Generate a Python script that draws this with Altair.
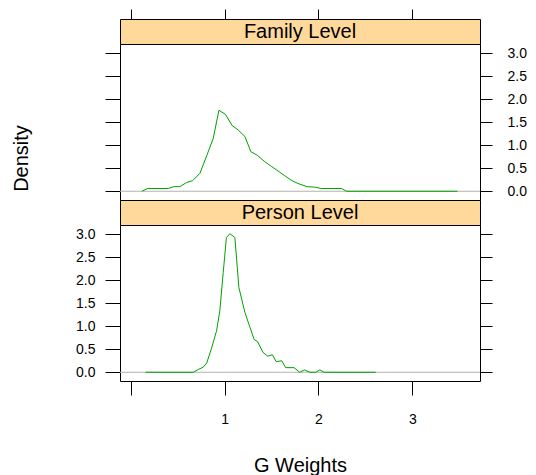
import altair as alt
import pandas as pd

# ---- data ----
fam_x = [0.12, 0.18, 0.40, 0.46, 0.525, 0.596, 0.66, 0.738, 0.81, 0.88, 0.94, 1.01, 1.08,
         1.146, 1.217, 1.28, 1.35, 1.43, 1.50, 1.57, 1.64, 1.71, 1.78, 1.88, 1.96, 2.03,
         2.245, 2.30, 3.48]
fam_y = [0.0, 0.06, 0.06, 0.10, 0.10, 0.19, 0.23, 0.39, 0.77, 1.15, 1.76, 1.67, 1.43,
         1.33, 1.19, 0.86, 0.78, 0.64, 0.54, 0.44, 0.34, 0.24, 0.17, 0.10, 0.09, 0.06,
         0.06, 0.0, 0.0]

per_x = [0.16, 0.667, 0.72, 0.773, 0.81, 0.86, 0.915, 0.95, 0.986, 1.02, 1.057, 1.11,
         1.153, 1.217, 1.27, 1.316, 1.35, 1.41, 1.46, 1.51, 1.55, 1.61, 1.65, 1.74, 1.80,
         1.85, 1.91, 1.97, 2.015, 2.06, 2.61]
per_y = [0.0, 0.0, 0.06, 0.11, 0.20, 0.51, 0.90, 1.34, 2.17, 2.93, 3.01, 2.93,
         1.84, 1.30, 0.98, 0.71, 0.67, 0.43, 0.35, 0.38, 0.23, 0.25, 0.10, 0.10, 0.0,
         0.05, 0.0, 0.0, 0.05, 0.0, 0.0]

panels = ["Family Level", "Person Level"]
x_ticks = [0, 1, 2, 3]
y_ticks = [0.0, 0.5, 1.0, 1.5, 2.0, 2.5, 3.0]
x_domain = [-0.113, 3.72]
y_domain = [-0.19, 3.2]

GREEN = "#00A000"
REF = "#b3b3b3"
STRIP = "#FFD89B"
FONT = "Liberation Sans"
W, H, SH = 360, 156, 25

fam_df = pd.DataFrame({"x": fam_x, "y": fam_y})
per_df = pd.DataFrame({"x": per_x, "y": per_y})
zero_df = pd.DataFrame({"d": [0.0]})
xt_df = pd.DataFrame({"t": x_ticks})

xs = alt.Scale(domain=x_domain, nice=False, zero=False)
ys = alt.Scale(domain=y_domain, nice=False, zero=False)


def strip(label, top_axis):
    txt = alt.Chart(pd.DataFrame({"panel": [label]})).mark_text(
        font=FONT, fontSize=20, color="black"
    ).encode(text="panel:N")
    layers = [txt]
    if top_axis:
        ax = alt.Chart(xt_df).mark_tick(opacity=0).encode(
            x=alt.X("t:Q", scale=xs,
                    axis=alt.Axis(orient="top", values=x_ticks, labels=False, title=None,
                                  tickSize=10, domain=False, grid=False))
        )
        layers = [ax, txt]
    return alt.layer(*layers).properties(
        width=W, height=SH, view=alt.ViewBackground(fill=STRIP, stroke="black", strokeWidth=1)
    )


def panel(df, left_labels, bottom_axis, with_title):
    right_axis = alt.Axis(orient="right", values=y_ticks, labels=not left_labels, title=None,
                          tickSize=12, labelPadding=15, format=".1f", domain=False, grid=False,
                          labelAlign="left")
    if with_title:
        left_axis = alt.Axis(orient="left", values=y_ticks, labels=left_labels, title="Density",
                             tickSize=15, labelPadding=10, format=".1f", domain=False, grid=False,
                             titleX=-92.4, titleY=114, titleBaseline="alphabetic",
                             titleAngle=270, titleFontSize=20, titleFontWeight="normal")
    else:
        left_axis = alt.Axis(orient="left", values=y_ticks, labels=left_labels, title=None,
                             tickSize=15, labelPadding=10, format=".1f", domain=False, grid=False)
    if bottom_axis:
        xaxis = alt.Axis(orient="bottom", values=x_ticks, format="d", title="G Weights",
                         tickSize=14, labelPadding=17, domain=False, grid=False,
                         labelExpr="datum.value == 0 ? '' : datum.label",
                         titleY=90, titleBaseline="alphabetic", titleFontSize=20,
                         titleFontWeight="normal")
    else:
        xaxis = None
    ref = alt.Chart(zero_df).mark_rule(color=REF, strokeWidth=1).encode(
        y=alt.Y("d:Q", scale=ys, axis=right_axis)
    )
    line = alt.Chart(df).mark_line(color=GREEN, strokeWidth=1).encode(
        x=alt.X("x:Q", scale=xs, axis=xaxis),
        y=alt.Y("y:Q", scale=ys, axis=left_axis),
        order="x:Q",
    )
    return alt.layer(ref, line).resolve_axis(y="independent").properties(
        width=W, height=H, view=alt.ViewBackground(fill="white", stroke="black", strokeWidth=1)
    )


chart = alt.vconcat(
    strip(panels[0], True),
    panel(fam_df, False, False, True),
    strip(panels[1], False),
    panel(per_df, True, True, False),
    spacing=0,
    bounds="flush",
).properties(
    padding={"left": 3, "top": 0, "right": 0, "bottom": 0}
).configure_axis(
    labelFont=FONT, titleFont=FONT, labelFontSize=14, labelColor="black",
    titleColor="black", tickColor="black", tickWidth=1
).configure_concat(spacing=0)

chart.save("out.html", embed_options={"renderer": "svg", "actions": False})
